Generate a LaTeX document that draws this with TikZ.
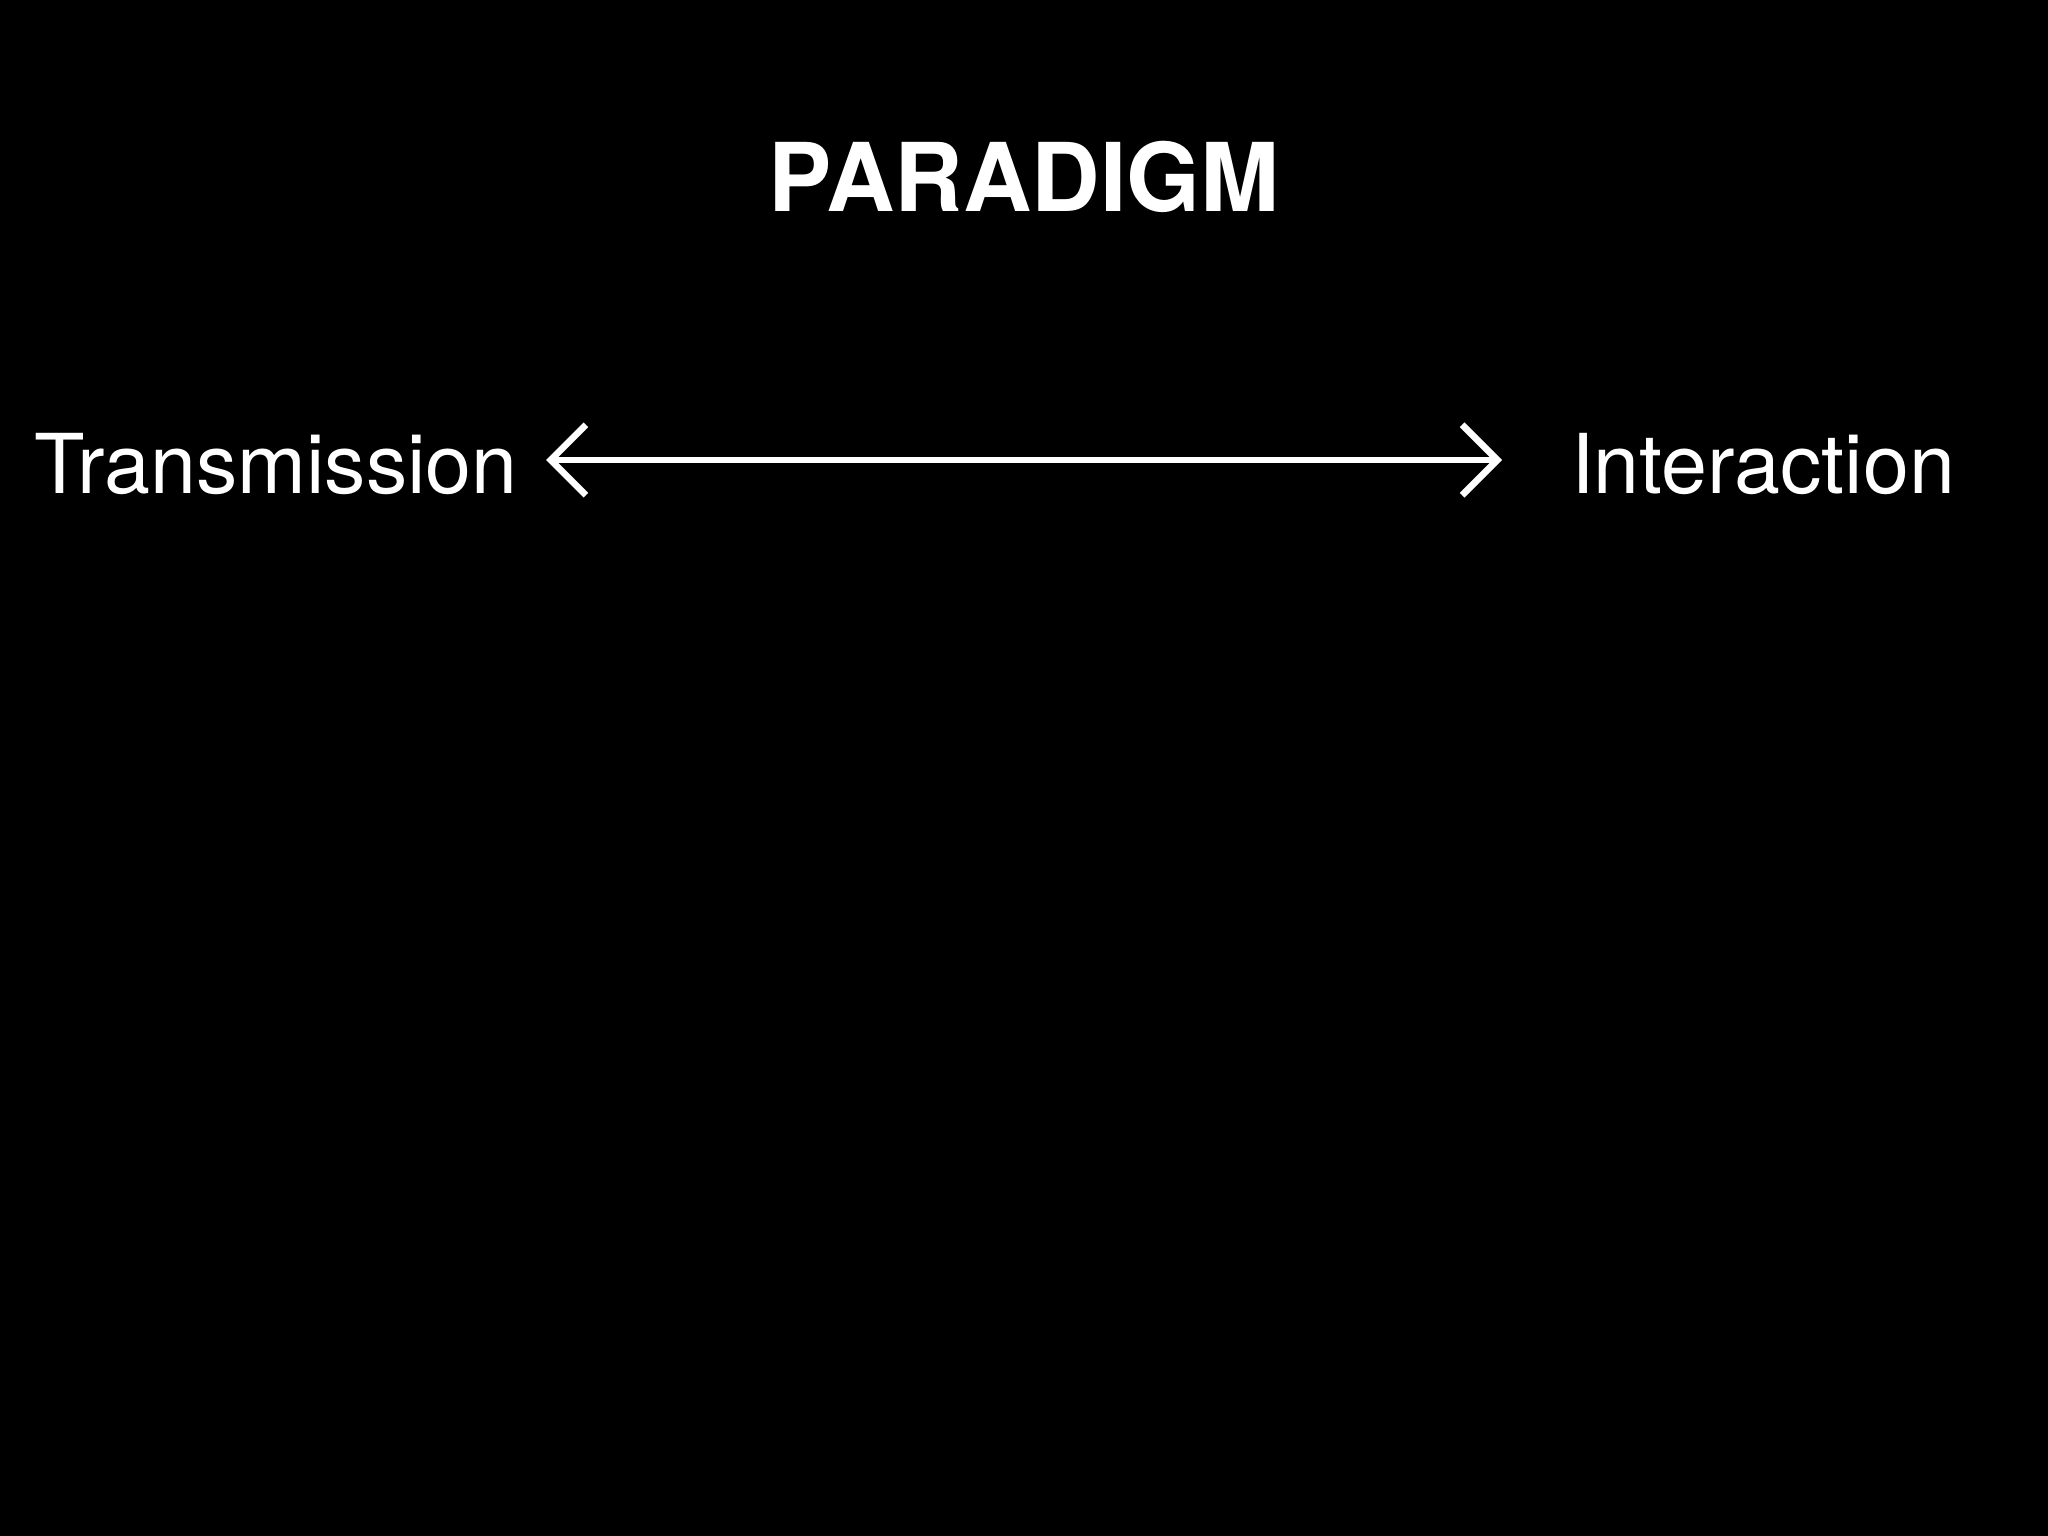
\documentclass[tikz,border=0pt]{standalone}
\usepackage{fontspec}
\setmainfont{TeX Gyre Heros}
\usetikzlibrary{arrows.meta}
\begin{document}
\begin{tikzpicture}[
  lbl/.style={text=white,font=\fontsize{23.5pt}{28pt}\selectfont,anchor=base,inner sep=0pt},
  ttl/.style={text=white,font=\fontsize{27pt}{32pt}\selectfont\bfseries,anchor=base,inner sep=0pt},
  conn/.style={white,line width=1.9pt,{Straight Barb[length=10pt,width=20pt,line width=1.9pt]}-{Straight Barb[length=10pt,width=20pt,line width=1.9pt]}}
]
\fill[black] (0,0) rectangle (20.48,-15.36);
\useasboundingbox (0,0) rectangle (20.48,-15.36);
\node[ttl] (title) at (10.24,-2.12) {PARADIGM};
\node[lbl] (tr) at (2.76,-4.94) {Transmission};
\node[lbl] (in) at (17.63,-4.94) {Interaction};
\coordinate (a) at (5.46,-4.60);
\coordinate (b) at (15.02,-4.60);
\draw[conn] (a) -- (b);
\end{tikzpicture}
\end{document}
